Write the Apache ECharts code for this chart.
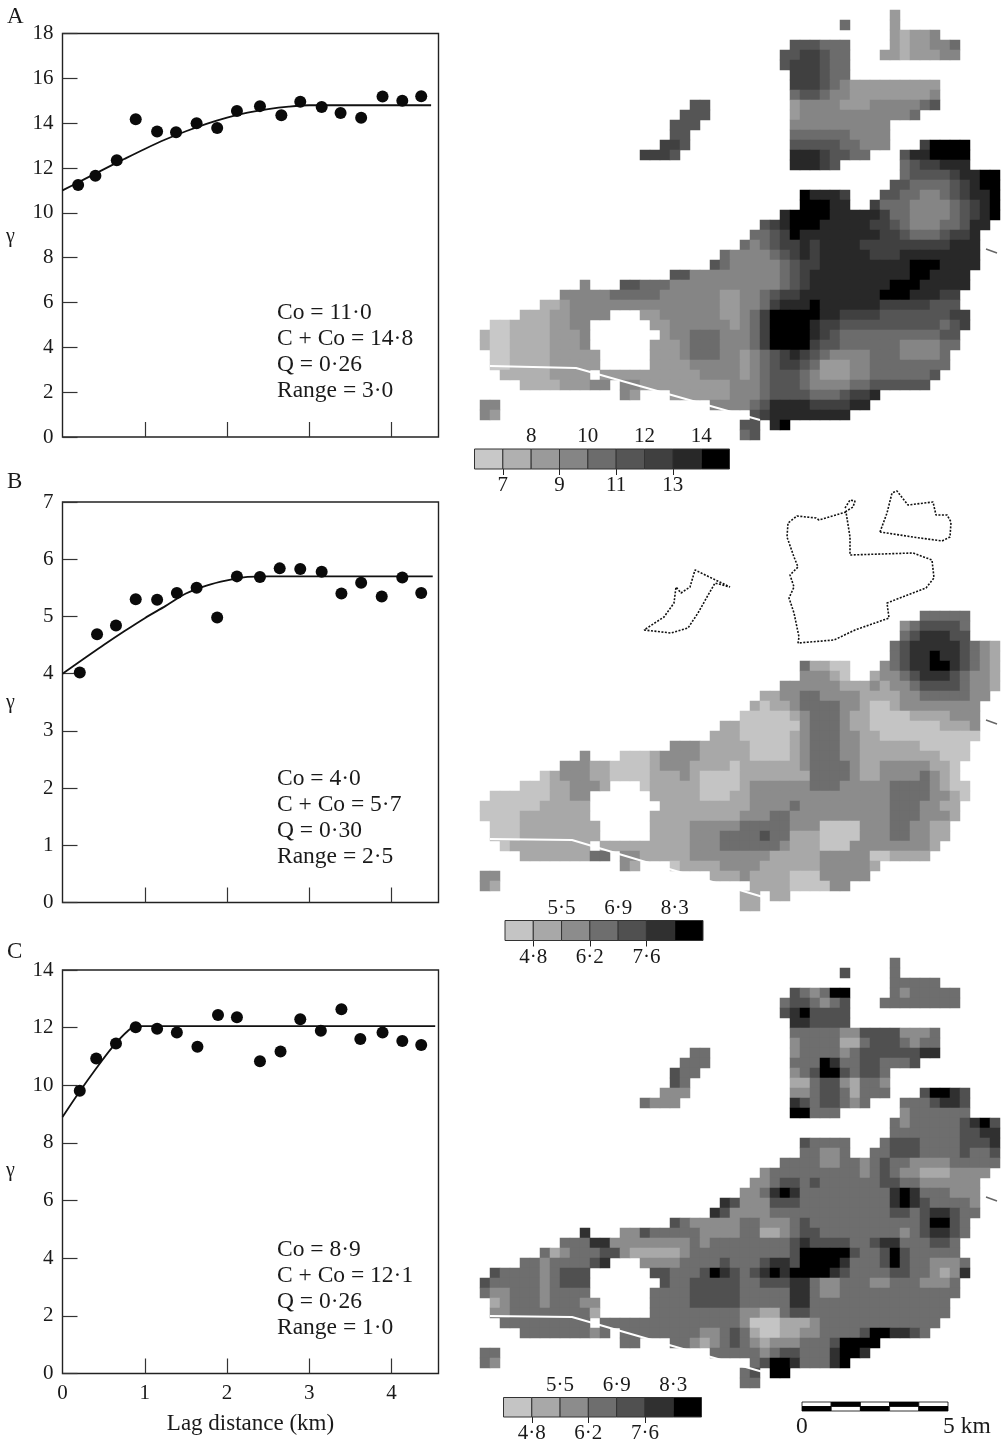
<!DOCTYPE html>
<html><head><meta charset="utf-8">
<style>html,body{margin:0;padding:0;background:#fff}#c{width:1002px;height:1444px}</style>
<script src="https://cdn.jsdelivr.net/npm/echarts@6/dist/echarts.min.js"></script>
</head><body><div id="c"></div>
<script>
const lagA=[0.19,0.40,0.66,0.89,1.15,1.38,1.63,1.88,2.12,2.40,2.66,2.89,3.15,3.38,3.63,3.89,4.13,4.36];
const gammaA=[11.24,11.65,12.35,14.17,13.63,13.59,14.0,13.78,14.54,14.76,14.35,14.96,14.72,14.45,14.24,15.19,15.0,15.2];
const modelXA=[0,.25,.5,.75,1,1.25,1.5,1.75,2,2.25,2.5,2.75,3,4.48];
const modelYA=[11,11.47,11.94,12.4,12.85,13.27,13.64,13.97,14.25,14.47,14.63,14.74,14.8,14.8];
const lagB=[0.21,0.42,0.65,0.89,1.15,1.39,1.63,1.88,2.12,2.40,2.64,2.89,3.15,3.39,3.63,3.88,4.13,4.36];
const gammaB=[4.02,4.69,4.84,5.30,5.29,5.41,5.50,4.98,5.70,5.69,5.84,5.83,5.78,5.40,5.59,5.35,5.68,5.41];
const modelXB=[0,.25,.5,.75,1,1.25,1.5,1.75,2,2.25,2.5,4.5];
const modelYB=[4,4.25,4.5,4.74,4.97,5.18,5.4,5.54,5.63,5.69,5.7,5.7];
const lagC=[0.21,0.41,0.65,0.89,1.15,1.39,1.64,1.89,2.12,2.40,2.65,2.89,3.14,3.39,3.62,3.89,4.13,4.36];
const gammaC=[9.81,10.93,11.45,12.01,11.96,11.83,11.34,12.44,12.36,10.83,11.17,12.29,11.89,12.64,11.61,11.83,11.54,11.40];
const modelXC=[0,.2,.4,.6,.8,.9,4.53];
const modelYC=[8.9,9.75,10.55,11.3,11.9,12.05,12.05];
const noteA=['Co = 11·0','C + Co = 14·8','Q = 0·26','Range = 3·0'];
const noteB=['Co = 4·0','C + Co = 5·7','Q = 0·30','Range = 2·5'];
const noteC=['Co = 8·9','C + Co = 12·1','Q = 0·26','Range = 1·0'];
const grey9=['#c8c8c8','#b0b0b0','#9a9a9a','#858585','#6c6c6c','#555555','#404040','#282828','#000000'];
const grey7=['#c4c4c4','#a8a8a8','#8c8c8c','#6e6e6e','#505050','#303030','#000000'];
const edgesA=[6,7,8,9,10,11,12,13,14,15];
const edgesBC=[4.1,4.8,5.5,6.2,6.9,7.6,8.3,9.0];
const topTicksA=[8,10,12,14], botTicksA=[7,9,11,13];
const topTicksBC=[5.5,6.9,8.3], botTicksBC=[4.8,6.2,7.6];
const roadA=[[490,366],[576,368],[760,420]];
const roadB=[[490,839],[572,840],[763,897]];
const roadC=[[490,1316],[572,1317],[763,1372]];
const markA=[[986,249],[997,253]];
const markB=[[986,720],[997,724]];
const markC=[[986,1197],[997,1201]];
const dotIsland=[[880,532],[887,513],[892,493],[897,491],[908,505],[933,502],[936,515],[947,515],[951,522],[950,537],[942,541],[913,537],[880,532]];
const dotBig=[[846,512],[819,520],[816,518],[797,516],[788,523],[787,537],[794,557],[798,567],[790,575],[794,587],[789,598],[794,613],[799,637],[798,643],[834,640],[855,630],[889,618],[887,603],[926,588],[934,578],[932,560],[913,553],[850,555],[850,537],[846,512]];
const dotOval=[[845,508],[850,500],[855,501],[853,507],[845,512]];
const dotSliver=[[644,630],[671,633],[688,628],[698,613],[707,597],[715,583],[730,587],[695,570],[690,587],[681,593],[676,587],[674,603],[664,617],[644,630]];
const scaleWhiteTop=[0,2,4];
const mapRowsA=[
"41:3","36:5 41:3","41:32334","31:666555 41:3233445","30:6677655 40:33233344","30:6777655","31:777655",
"31:7776 35:5 36:4 37:333333333","31:5665 35:44 37:33333333 45:4","21:66 31:34444 36:333 39:44444 44:56",
"20:666 31:344444444444 43:5","19:666 31:4444444444","19:66 31:555555 37:4444","18:776 31:66666 36:55 38:444 44:7 45:9999",
"16:7776 31:888 34:7 35:66 37:55 42:68 44:8 45:9999","31:888 34:76 42:5677 46:888","42:56666 47:7 48:88 50:99",
"41:66 43:5555 47:6 48:7 49:8 50:99","32:98887 40:665544567889","32:99988 39:7555444456789","30:8999988888755444456789",
"28:678 31:999 34:88888 39:77 41:6 42:5 43:444 46:55 48:6 49:88","27:5567 31:9 32:88888888 40:77 42:6 43:555 46:6 47:77 49:8",
"26:54567787 34:8888 38:777777777 47:888","24:54444 29:5678 33:7 34:88888 39:777 42:88888888",
"23:65 25:44444 30:5677 34:888888888 43:999 46:8888","19:66 21:444444444 30:567 33:8888888888 43:99 45:8888",
"10:4 14:66 16:555 19:44444444444 30:567 33:88888888 41:999 44:88888",
"8:44444 13:55555 18:444444 24:33 26:44 28:5677 32:88888888 40:999 43:888 46:77",
"6:223 9:444444444444444 24:33 26:44 28:57 30:888 33:9 34:888888 40:77777 45:666",
"4:222 7:33 9:4444 16:33 18:444444 24:33 26:4 27:5 28:7 29:99999 34:88 36:7777 40:6666666 47:77",
"1:11 3:2222 7:33 9:44 17:33 19:444444 25:3 26:4 27:5 28:7 29:9999 33:8 34:77 36:6666666666 46:5 47:6 48:7",
"0:211 3:2222 7:333 10:4 18:344 21:555 24:444 27:57 29:9999 33:876 36:5555555555 46:66",
"0:211 3:2222 7:333 10:4 17:333 20:4 21:555 24:444 27:57 29:9999 33:766 36:555555 42:4444 46:55",
"1:11 3:2222 7:33333 17:333 20:4 21:555 24:44 26:345678765 35:4444 39:555 42:4444 46:5",
"1:11 3:2222 7:33333 17:3333 21:44444 26:34567765 34:333 37:44 39:55555555",
"2:22222 7:3333 12:3333333333 22:4444 26:345666 32:54 34:333 37:44 39:555555 45:6",
"4:2222 8:333 11:44 14:44 16:333333333 25:444 28:5666 32:5 33:4444 37:55 39:666666",
"14:43 19:333333 25:444 28:5 29:6666 33:555 36:6 37:77 39:8","0:44 23:4444 27:56 29:8888 33:7777 37:88",
"0:43 27:67 29:88888888","26:66 29:89","26:56"];
const mapRowsB=["","","","","","","","","","","","","",
"44:44444","42:34 44:5555 48:4","42:45 44:666 47:55","41:4 42:5 43:66666 48:5 49:4 50:3 51:2","41:45667665432",
"32:4 33:22 35:11 40:345667765432","32:33321 39:2334566654332","30:333333 36:222 39:3 40:2 41:33 43:4 44:5555 48:4 49:33 51:2",
"28:22 30:33 32:44 34:3333 38:2222 42:33 44:44444 49:33","27:21 29:22 31:3 32:4444 36:33 38:2 39:11 41:2 42:33333333",
"26:11111 31:2 32:3 33:444 36:3 37:22 39:1111 43:2222 47:333","24:22 26:111111 32:3 33:444 36:3 37:22 39:1111111 46:222 49:3",
"23:222 26:11111 31:2 32:3 33:444 36:33 38:22 40:1111111111","19:333 22:22222 27:1111 31:2 32:3 33:444 36:33 38:222222 44:11111",
"10:3 14:111 17:2 18:3333 22:22222 27:1111 31:2 32:3 33:444 36:33 38:22222222 46:111",
"8:333 11:22 13:1111 17:2 18:333 21:2222 25:1 26:222222 32:3 33:4444 37:3 38:22 40:33333 45:22 47:1",
"6:1 7:2 8:333 11:22 13:1111 17:222 20:3 21:2 22:1111 26:2222222 33:4444 37:3 38:22 40:3333 44:4 45:3 46:2 47:1",
"4:111 7:22 9:333 12:2 16:1 17:22222 22:1111 26:2 27:333333 33:444 36:33333 41:4444 45:3 46:2 47:11",
"1:111111 7:22 9:33 17:22222 22:111 25:22 27:33333333333333 41:4444 45:33 47:2 48:1",
"0:111111 6:22222 18:222222222 27:3333 31:4 32:333333333 41:444 44:33 46:22",
"0:1111 4:2222222 17:222222222 26:333 29:44 31:3333333333 41:444 44:333 47:2",
"1:111 4:22222222 17:2222 21:33333 26:44444 31:333 34:1111 38:333 41:44 43:33 45:22",
"1:111 4:22222222 17:2222 21:333 24:4444 28:5 29:44 31:222 34:1111 38:333 41:44 43:33 45:22",
"2:1 3:22222222 12:222222222 21:333 24:444444 30:3 31:222 34:111 37:33333333 45:2",
"4:2222222 11:44 14:33 16:22222 21:33333333 29:22222 34:33333 39:11 41:2222",
"14:32 19:1 20:2222 24:3333 28:222222 34:33333 39:2","0:33 23:222 26:3 27:2222 31:111 34:33333",
"0:32 27:2222 31:1111 35:33","26:22 29:22","26:22"];
const mapRowsC=["41:4","36:5 41:4","41:44444","31:543477 41:4344444","30:4554345 40:44444444","30:5675555","31:665555",
"31:44444 36:33 38:5555 42:333 45:4","31:3 32:4444 36:22 38:4 39:555 42:43 44:44","21:44 31:3 32:4444 36:34 38:555555 44:66",
"20:444 31:4447644554445","19:544 31:3457754554","19:54 31:2245532443","18:333 31:3345542444 44:57765",
"16:4333 31:65455 36:434 42:444 45:5665","31:77444 42:3444444","41:4 42:3 43:44444 48:5 49:6 50:7 51:5","41:4444444 48:55 50:66",
"32:5 33:4444 40:4555 44:4444 48:555 51:6","32:44 34:33 36:4 39:44 41:555 44:4444 48:5 49:44 51:5",
"30:4444 34:33 36:44 38:3 39:4 40:5 41:44 43:3333 47:44444","28:3 29:444444444 38:3 39:4 40:5 41:4 42:33 44:222 47:3333",
"27:33 29:4 30:55 32:4 33:5 34:44444 39:4 40:55 42:44 44:333333","26:33 28:4 29:676 32:444444444 41:676 44:444 47:333",
"24:65 26:333 29:555 32:444444444 41:676 44:5 45:4444 49:3","23:65 25:3333 29:444444444444 41:55 43:4 44:5 45:66 47:5 48:44",
"19:54 21:33333 26:44 28:333 31:4 32:5 33:44444444444 44:5 45:77 47:5 48:4",
"10:6 14:33 16:5 17:44444 22:3333 26:44 28:22 30:3 31:4 32:55 34:44444444 42:3 43:4 44:5 45:66 47:5 48:4",
"8:444 11:66 13:33333333 21:4 22:3 23:44444444 31:5 32:6 33:5555 37:44 39:5 40:66 42:444 45:55 47:4",
"6:423 9:444 12:55 14:3 15:22222 20:3 21:4444444444 31:5 32:77777 37:5 38:44 40:575 43:44444",
"4:44 6:3 7:4444 11:56 16:3333 20:4444 24:5 25:444 28:566 31:5 32:7777 36:6 37:444 40:575 43:44 45:333 48:4",
"1:5 2:4444 6:3 7:4 8:555 17:55 19:444 22:5 23:7 24:6 25:5 26:4 27:5 28:6 29:7 30:6 31:7777 35:6 36:5 37:4444 41:55 43:44 45:3 46:2 47:3 48:6",
"0:5 1:44444 6:3 7:4 8:555 18:5 19:44 21:55555 26:44 28:555 31:66 33:4 34:33 36:444 39:33 41:444 44:333 47:4",
"0:4 1:33 3:444 6:3 7:4444 17:4444 21:55555 26:44444 31:66 33:4 34:33 36:44444 41:4444444",
"1:23 3:444 6:3 7:444 10:33 17:4444 21:55555 26:44444 31:66 33:44444444444444",
"1:33 3:44444444 11:2 17:444444444 26:33 28:22 30:4 31:55 33:44444444444444",
"2:444444444 12:44444444444444 26:3 27:111 30:222 33:3 34:444444444444",
"4:4444444 11:34 14:44 16:444444 22:33 24:4 25:5 26:4 27:2 28:11 30:22 32:33 34:4444 38:5 39:77 41:66 43:5 44:4",
"14:44 19:44 21:323 24:4 25:5 26:4 27:3 28:2 29:333 32:444 35:5 36:7777",
"0:44 23:44444 28:3 29:4 30:55 32:444 35:6 36:77 38:6","0:43 27:45 29:77 31:6 32:444 35:6 36:7","26:45 29:77","26:44"];

const FONT='"Liberation Serif",serif', INK='#1a1a1a', COLS=52, ROWS=43;
const grids=[],xAxes=[],yAxes=[],series=[],visualMaps=[],graphics=[];
function zip(a,b){return a.map((v,i)=>[v,b[i]]);}
function addGrid(g,xs,ys){
  const gi=grids.length; grids.push(g);
  const xi=[];xs.forEach(a=>{xi.push(xAxes.length);xAxes.push(Object.assign({gridIndex:gi},a));});
  const yi=yAxes.length; yAxes.push(Object.assign({gridIndex:gi},ys));
  return {xi,yi};
}
function txt(text,x,y,size,extra){graphics.push({type:'text',left:x,top:y,silent:true,style:Object.assign({text,fill:INK,font:`${size||20}px ${FONT}`},extra||{})});}
function variogram(top,bottom,ymax,yint,lag,gam,mx,my,note,letter,letterY,gy,showX){
  const tick={show:true,inside:true,length:15,lineStyle:{color:'#333',width:1.2}};
  const a=addGrid({left:62.5,top,width:376,height:bottom-top,show:true,borderColor:'#222',borderWidth:1.4,backgroundColor:'#fff'},
   [{type:'value',min:0,max:4.57,splitLine:{show:false},axisLine:{show:false},
     axisTick:Object.assign({customValues:[1,2,3,4]},tick),
     axisLabel:showX?{customValues:[0,1,2,3,4],color:INK,fontFamily:FONT,fontSize:21,margin:9}:{show:false},
     name:showX?'Lag distance (km)':'',nameLocation:'middle',nameGap:39,nameTextStyle:{color:INK,fontFamily:FONT,fontSize:23}}],
   {type:'value',min:0,max:ymax,interval:yint,splitLine:{show:false},axisLine:{show:false},axisTick:tick,
     axisLabel:{color:INK,fontFamily:FONT,fontSize:21,margin:9,padding:[8,0,0,0]}});
  series.push({type:'line',xAxisIndex:a.xi[0],yAxisIndex:a.yi,data:zip(mx,my),smooth:.3,symbol:'none',lineStyle:{color:'#111',width:1.8},z:2});
  series.push({type:'scatter',xAxisIndex:a.xi[0],yAxisIndex:a.yi,data:zip(lag,gam),symbolSize:12,itemStyle:{color:'#0a0a0a',opacity:1},z:3});
  note.forEach((t,i)=>txt(t,277,bottom-136+26*i,23.5));
  txt(letter,7,letterY,23);
  txt('γ',6,gy,20);
}
function expand(rows){
  const d=[];
  rows.forEach((row,r)=>{row.split(' ').filter(Boolean).forEach(tok=>{
    const [c,v]=tok.split(':');[...v].forEach((ch,i)=>d.push([+c+i,r,+ch]));});});
  return d;
}
function mapPanel(top,rows,palette,road,mark,outlines){
  const n=Array.from({length:COLS},(_,i)=>i), m=Array.from({length:ROWS},(_,i)=>i);
  const a=addGrid({left:480,top,width:520,height:430},
    [{type:'category',data:n,show:false}],{type:'category',data:m,inverse:true,show:false});
  const si=series.length;
  series.push({type:'heatmap',xAxisIndex:a.xi[0],yAxisIndex:a.yi,data:expand(rows),progressive:0,emphasis:{disabled:true}});
  visualMaps.push({type:'piecewise',show:false,seriesIndex:si,dimension:2,pieces:palette.map((c,i)=>({value:i+1,color:c}))});
  const b=addGrid({left:480,top,width:520,height:430},
    [{type:'value',min:480,max:1000,show:false}],{type:'value',min:top,max:top+430,inverse:true,show:false});
  series.push({type:'line',xAxisIndex:b.xi[0],yAxisIndex:b.yi,data:road,symbol:'none',lineStyle:{color:'#fff',width:2},z:4,silent:true});
  series.push({type:'line',xAxisIndex:b.xi[0],yAxisIndex:b.yi,data:mark,symbol:'none',lineStyle:{color:'#666',width:1.6},z:4,silent:true});
  (outlines||[]).forEach(o=>series.push({type:'line',xAxisIndex:b.xi[0],yAxisIndex:b.yi,data:o,symbol:'none',
     lineStyle:{color:'#111',width:1.6,type:[2,1.5]},z:4,silent:true}));
}
function legendBar(left,width,top,edges,palette,topT,botT,fmt){
  const ax=(pos,vals,margin)=>({type:'value',min:edges[0],max:edges[edges.length-1],position:pos,splitLine:{show:false},axisLine:{show:false},
    axisTick:{customValues:vals,length:6,lineStyle:{color:'#222',width:1}},
    axisLabel:{customValues:vals,margin,color:INK,fontFamily:FONT,fontSize:21,formatter:fmt}});
  const a=addGrid({left,top,width,height:20},[ax('top',topT,2),ax('bottom',botT,6)],{type:'value',min:0,max:1,show:false});
  const data=palette.map((c,i)=>[edges[i],edges[i+1],i]);
  series.push({type:'custom',xAxisIndex:a.xi[0],yAxisIndex:a.yi,data,silent:true,encode:{x:[0,1]},renderItem(p,api){
    const s=api.coord([api.value(0),1]),e=api.coord([api.value(1),0]);
    return {type:'rect',shape:{x:s[0],y:s[1],width:e[0]-s[0],height:e[1]-s[1]},style:{fill:palette[api.value(2)],stroke:'#333',lineWidth:1}};
  }});
}
function scaleBar(){
  const a=addGrid({left:802,top:1402,width:146,height:9},[{type:'value',min:0,max:5,show:false}],{type:'value',min:0,max:2,show:false});
  const data=[];
  [0,1,2,3,4].forEach(k=>{
    data.push([k,k+1,1,scaleWhiteTop.includes(k)?0:1]);
    data.push([k,k+1,0,scaleWhiteTop.includes(k)?1:0]);
  });
  series.push({type:'custom',xAxisIndex:a.xi[0],yAxisIndex:a.yi,data,silent:true,encode:{x:[0,1]},renderItem(p,api){
    const s=api.coord([api.value(0),api.value(2)+1]),e=api.coord([api.value(1),api.value(2)]);
    return {type:'rect',shape:{x:s[0],y:s[1],width:e[0]-s[0],height:e[1]-s[1]},style:{fill:api.value(3)?'#000':'#fff',stroke:'#000',lineWidth:.8}};
  }});
  txt('0',796,1415,23.5);
  txt('5 km',943,1415,23.5);
}
const dot=v=>v.toFixed(1).replace('.','·');
variogram(33.5,437,18,2,lagA,gammaA,modelXA,modelYA,noteA,'A',5,227,false);
variogram(502,902.5,7,1,lagB,gammaB,modelXB,modelYB,noteB,'B',470,693,false);
variogram(970,1373.5,14,2,lagC,gammaC,modelXC,modelYC,noteC,'C',940,1161,true);
mapPanel(10,mapRowsA,grey9,roadA,markA);
mapPanel(481,mapRowsB,grey7,roadB,markB,[dotIsland,dotBig,dotOval,dotSliver]);
mapPanel(958,mapRowsC,grey7,roadC,markC);
legendBar(474.5,255,449,edgesA,grey9,topTicksA,botTicksA,v=>String(v));
legendBar(505,198,920.5,edgesBC,grey7,topTicksBC,botTicksBC,dot);
legendBar(503.5,198,1397.5,edgesBC,grey7,topTicksBC,botTicksBC,dot);
scaleBar();
const chart=echarts.init(document.getElementById('c'),null,{renderer:'canvas'});
chart.setOption({animation:false,backgroundColor:'#fff',tooltip:{show:false},grid:grids,xAxis:xAxes,yAxis:yAxes,series,visualMap:visualMaps,graphic:{elements:graphics}});
</script></body></html>
